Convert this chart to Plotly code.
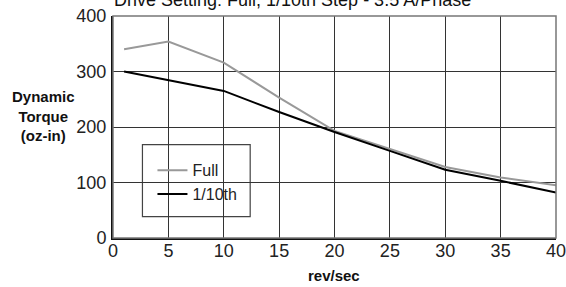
import plotly.graph_objects as go

speed = [1, 5, 10, 15, 20, 25, 30, 35, 40]
full_torque = [340, 354, 316, 253, 193, 160, 128, 109, 95]
tenth_torque = [300, 285, 265, 227, 191, 157, 123, 103, 82]
x_ticks = [0, 5, 10, 15, 20, 25, 30, 35, 40]
y_ticks = [0, 100, 200, 300, 400]

FONT = "Liberation Sans, Arial, sans-serif"

# plot-area pixel geometry
L, R, T, B = 113.3, 555.7, 15.7, 237.7
W, H = R - L, B - T


def px(xp):
    return (xp - L) / W


def py(yp):
    return (B - yp) / H


fig = go.Figure()
fig.add_trace(go.Scatter(x=speed, y=full_torque, mode="lines", name="Full",
                         line=dict(color="#999999", width=2)))
fig.add_trace(go.Scatter(x=speed, y=tenth_torque, mode="lines", name="1/10th",
                         line=dict(color="#000000", width=2)))

fig.update_layout(
    width=566, height=287,
    margin=dict(l=L, r=566 - R, t=T, b=287 - B, autoexpand=False),
    paper_bgcolor="white", plot_bgcolor="white",
    font=dict(family=FONT, size=18, color="#222222"),
    showlegend=True,
    legend=dict(x=px(152.7), y=py(153), xanchor="left", yanchor="top",
                bgcolor="rgba(0,0,0,0)", borderwidth=0,
                font=dict(size=16, color="#222222"),
                tracegroupgap=0, itemwidth=30),
    xaxis=dict(range=[0, 40], tickvals=x_ticks, ticks="", showgrid=True,
               gridcolor="#333333", gridwidth=1, zeroline=False,
               showline=True, linecolor="#111111", linewidth=2,
               ticklabelstandoff=-5, automargin=False,
               ticklabeloverflow="allow"),
    yaxis=dict(range=[0, 400], tickvals=y_ticks, ticks="", showgrid=True,
               gridcolor="#333333", gridwidth=1, zeroline=False,
               showline=True, linecolor="#111111", linewidth=2,
               ticklabelstandoff=1, automargin=False,
               ticklabeloverflow="allow"),
    shapes=[
        dict(type="rect", xref="paper", yref="paper", x0=0, x1=1, y0=0, y1=1,
             line=dict(color="#777777", width=1.5), layer="above"),
        dict(type="rect", xref="paper", yref="paper",
             x0=px(142.7), x1=px(250.3), y0=py(216.3), y1=py(144.3),
             fillcolor="white", line=dict(color="#444444", width=1.2),
             layer="between"),
    ],
    annotations=[
        dict(text="Drive Setting: Full, 1/10th Step - 3.5 A/Phase",
             xref="paper", yref="paper", x=px(293), y=py(0),
             xanchor="center", yanchor="middle", showarrow=False,
             font=dict(size=18, color="#111111")),
        dict(text="<b>Dynamic<br>Torque<br>(oz-in)</b>",
             xref="paper", yref="paper", x=px(44),
             y=py(116), xanchor="center", yanchor="middle",
             showarrow=False, font=dict(size=15, color="#111111")),
        dict(text="<b>rev/sec</b>", xref="paper", yref="paper",
             x=px(334), y=py(275), xanchor="center", yanchor="middle",
             showarrow=False, font=dict(size=15, color="#111111")),
    ],
)

fig.write_html("out.html",
               config={"displayModeBar": False},
               post_script="document.body.style.margin='0';"
                           "document.body.style.padding='0';")
